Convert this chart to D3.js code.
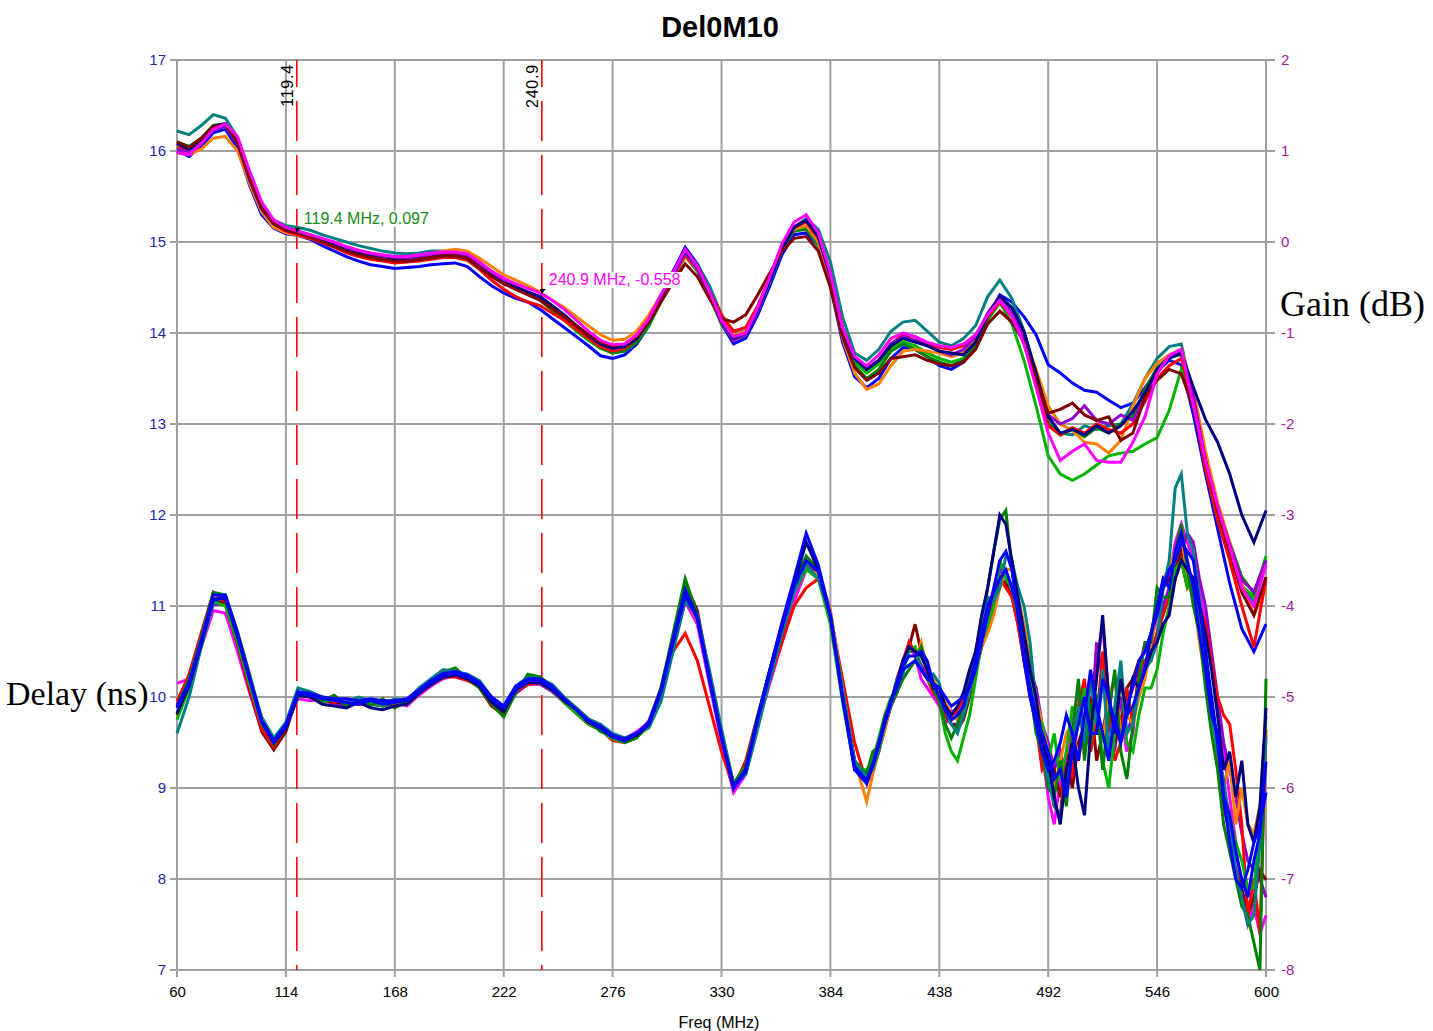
<!DOCTYPE html>
<html><head><meta charset="utf-8">
<script src="https://cdn.jsdelivr.net/npm/d3@7"></script>
<style>body{margin:0;background:#fff}svg{display:block}</style>
</head><body>
<svg id="chart" width="1433" height="1031"></svg>
<script>
const title = "Del0M10";
const xTicks = [60,114,168,222,276,330,384,438,492,546,600];
const delayTicks = [7,8,9,10,11,12,13,14,15,16,17];
const gainTicks = [-8,-7,-6,-5,-4,-3,-2,-1,0,1,2];
const markers = [119.4, 240.9];
const markerNotes = [{f:119.4, text:"119.4 MHz, 0.097", color:"#178a17"},{f:240.9, text:"240.9 MHz, -0.558", color:"#ff00ff"}];

// frequency grid for gain traces (MHz)
const freq = [60,66,72,78,84,90,96,102,108,114,
120,126,132,138,144,150,156,162,168,174,
180,186,192,198,204,210,216,222,228,234,
240,246,252,258,264,270,276,282,288,294,
300,306,312,318,324,330,336,342,348,354,
360,366,372,378,384,390,396,402,408,414,
420,426,432,438,444,450,456,462,468,474,
480,486,492,498,504,510,516,522,528,534,
540,546,552,558,564,570,576,582,588,594,
600];
// frequency grid for delay traces: 60..396 (head) then 402..600 (tail)
const delayFreqHead = [60,66,72,78,84,90,96,102,108,114,
120,126,132,138,144,150,156,162,168,174,
180,186,192,198,204,210,216,222,228,234,
240,246,252,258,264,270,276,282,288,294,
300,306,312,318,324,330,336,342,348,354,
360,366,372,378,384,390,396];
const delayFreqTail = [402,405,408,411,414,417,420,423,426,429,
432,435,438,441,444,447,450,453,456,459,
462,465,468,471,474,477,480,483,486,489,
492,495,498,501,504,507,510,513,516,519,
522,525,528,531,534,537,540,543,546,549,
552,555,558,561,564,567,570,573,576,579,
582,585,588,591,594,597,600];

// ---- Gain (dB) series ----
const gainBlue = [1.00,0.94,1.05,1.20,1.24,1.03,0.62,0.30,0.15,0.09,
0.07,0.03,-0.04,-0.10,-0.16,-0.21,-0.25,-0.27,-0.29,-0.28,
-0.27,-0.25,-0.24,-0.23,-0.27,-0.38,-0.48,-0.56,-0.62,-0.66,
-0.74,-0.84,-0.94,-1.04,-1.14,-1.25,-1.28,-1.24,-1.12,-0.92,
-0.62,-0.32,-0.06,-0.24,-0.56,-0.90,-1.12,-1.06,-0.80,-0.48,
-0.14,0.08,0.10,-0.04,-0.48,-1.10,-1.48,-1.60,-1.50,-1.28,
-1.16,-1.18,-1.26,-1.36,-1.40,-1.32,-1.12,-0.82,-0.58,-0.66,
-0.82,-1.02,-1.35,-1.44,-1.55,-1.63,-1.65,-1.74,-1.82,-1.77,
-1.60,-1.42,-1.30,-1.35,-1.90,-2.55,-3.15,-3.75,-4.25,-4.50,
-4.20];
const gainTeal = [1.22,1.18,1.28,1.40,1.36,1.15,0.74,0.40,0.24,0.18,
0.16,0.13,0.08,0.04,0.00,-0.04,-0.07,-0.10,-0.12,-0.13,
-0.12,-0.10,-0.10,-0.11,-0.15,-0.25,-0.35,-0.43,-0.49,-0.55,
-0.60,-0.70,-0.80,-0.92,-1.02,-1.12,-1.17,-1.15,-1.06,-0.88,
-0.64,-0.40,-0.14,-0.24,-0.48,-0.80,-1.00,-0.98,-0.76,-0.44,
-0.10,0.16,0.26,0.14,-0.22,-0.82,-1.22,-1.30,-1.18,-0.98,
-0.88,-0.86,-0.98,-1.10,-1.14,-1.06,-0.92,-0.60,-0.42,-0.62,
-0.98,-1.46,-1.98,-2.10,-2.12,-2.02,-2.06,-2.02,-2.00,-1.78,
-1.50,-1.28,-1.15,-1.12,-1.72,-2.42,-2.98,-3.40,-3.78,-3.95,
-3.75];
const gainGreen = [1.10,1.05,1.14,1.28,1.30,1.10,0.70,0.37,0.21,0.12,
0.10,0.07,0.02,-0.03,-0.08,-0.12,-0.15,-0.17,-0.19,-0.19,
-0.17,-0.14,-0.12,-0.12,-0.16,-0.26,-0.35,-0.43,-0.50,-0.57,
-0.63,-0.74,-0.84,-0.95,-1.06,-1.16,-1.22,-1.20,-1.10,-0.90,
-0.64,-0.40,-0.16,-0.32,-0.60,-0.90,-1.08,-1.02,-0.74,-0.40,
-0.04,0.12,0.14,-0.02,-0.44,-1.02,-1.36,-1.50,-1.40,-1.20,
-1.12,-1.18,-1.26,-1.32,-1.36,-1.30,-1.14,-0.84,-0.66,-0.80,
-1.06,-1.52,-2.00,-2.12,-2.06,-2.14,-2.04,-2.10,-2.00,-1.92,
-1.62,-1.38,-1.26,-1.24,-1.70,-2.40,-2.92,-3.30,-3.68,-3.86,
-3.50];
const gainLime = [1.04,1.00,1.10,1.24,1.27,1.09,0.70,0.38,0.22,0.15,
0.12,0.08,0.03,-0.02,-0.07,-0.11,-0.14,-0.16,-0.18,-0.18,
-0.16,-0.14,-0.12,-0.13,-0.16,-0.26,-0.35,-0.44,-0.50,-0.57,
-0.64,-0.75,-0.86,-0.98,-1.08,-1.17,-1.22,-1.19,-1.10,-0.92,
-0.66,-0.40,-0.16,-0.30,-0.56,-0.86,-1.04,-0.98,-0.72,-0.38,
-0.06,0.12,0.15,-0.04,-0.46,-1.02,-1.32,-1.44,-1.34,-1.16,
-1.10,-1.14,-1.22,-1.28,-1.32,-1.28,-1.12,-0.86,-0.66,-0.90,
-1.30,-1.80,-2.35,-2.55,-2.62,-2.55,-2.45,-2.35,-2.32,-2.30,
-2.22,-2.15,-1.85,-1.40,-1.70,-2.45,-3.05,-3.40,-3.78,-3.90,
-3.45];
const gainOrange = [0.98,0.96,1.02,1.14,1.16,1.00,0.64,0.33,0.16,0.10,
0.07,0.04,0.00,-0.05,-0.10,-0.14,-0.17,-0.19,-0.20,-0.19,
-0.16,-0.13,-0.10,-0.08,-0.10,-0.18,-0.27,-0.36,-0.42,-0.48,
-0.55,-0.64,-0.72,-0.82,-0.92,-1.02,-1.08,-1.07,-0.98,-0.80,
-0.58,-0.38,-0.16,-0.30,-0.54,-0.84,-1.02,-0.98,-0.72,-0.40,
-0.04,0.14,0.18,0.00,-0.44,-1.06,-1.44,-1.62,-1.56,-1.36,
-1.20,-1.18,-1.20,-1.22,-1.26,-1.22,-1.06,-0.80,-0.60,-0.74,
-1.04,-1.40,-1.80,-2.00,-2.07,-2.20,-2.22,-2.32,-2.18,-1.80,
-1.50,-1.33,-1.24,-1.18,-1.62,-2.30,-2.86,-3.30,-3.76,-4.10,
-3.80];
const gainRed = [1.04,1.00,1.12,1.26,1.29,1.10,0.70,0.37,0.20,0.12,
0.08,0.04,-0.01,-0.06,-0.12,-0.16,-0.19,-0.21,-0.23,-0.22,
-0.21,-0.19,-0.17,-0.17,-0.20,-0.30,-0.42,-0.52,-0.60,-0.66,
-0.70,-0.78,-0.86,-0.96,-1.06,-1.15,-1.20,-1.17,-1.06,-0.86,
-0.60,-0.38,-0.14,-0.30,-0.54,-0.80,-0.98,-0.94,-0.70,-0.38,
-0.04,0.16,0.22,0.04,-0.38,-0.94,-1.26,-1.40,-1.30,-1.12,
-1.02,-1.04,-1.12,-1.16,-1.18,-1.14,-1.04,-0.82,-0.66,-0.82,
-1.12,-1.55,-2.02,-2.12,-2.04,-2.10,-2.00,-2.06,-2.10,-2.00,
-1.75,-1.50,-1.36,-1.28,-1.78,-2.50,-3.05,-3.50,-4.00,-4.45,
-3.70];
const gainPurple = [1.02,0.99,1.09,1.23,1.27,1.08,0.68,0.36,0.20,0.13,
0.10,0.06,0.02,-0.03,-0.08,-0.12,-0.15,-0.17,-0.19,-0.19,
-0.17,-0.15,-0.13,-0.13,-0.16,-0.26,-0.35,-0.43,-0.49,-0.55,
-0.61,-0.71,-0.82,-0.92,-1.02,-1.11,-1.16,-1.14,-1.05,-0.86,
-0.61,-0.37,-0.12,-0.29,-0.58,-0.88,-1.08,-1.02,-0.76,-0.42,
-0.08,0.17,0.24,0.06,-0.38,-0.96,-1.28,-1.40,-1.30,-1.12,
-1.04,-1.08,-1.14,-1.20,-1.24,-1.18,-1.04,-0.78,-0.60,-0.76,
-1.04,-1.50,-1.90,-2.00,-1.94,-1.80,-1.96,-2.00,-1.90,-1.96,
-1.70,-1.40,-1.26,-1.20,-1.70,-2.40,-2.92,-3.32,-3.72,-3.84,
-3.50];
const gainNavy = [1.08,1.02,1.13,1.27,1.30,1.10,0.70,0.37,0.20,0.13,
0.10,0.06,0.01,-0.04,-0.09,-0.13,-0.16,-0.19,-0.20,-0.21,
-0.19,-0.17,-0.15,-0.15,-0.18,-0.28,-0.37,-0.45,-0.50,-0.55,
-0.60,-0.70,-0.80,-0.92,-1.03,-1.12,-1.17,-1.15,-1.06,-0.86,
-0.60,-0.34,-0.10,-0.26,-0.54,-0.86,-1.06,-1.00,-0.74,-0.42,
-0.08,0.16,0.24,0.06,-0.36,-0.96,-1.28,-1.40,-1.30,-1.14,
-1.06,-1.10,-1.14,-1.20,-1.22,-1.24,-1.10,-0.80,-0.60,-0.72,
-0.98,-1.44,-1.92,-2.10,-2.06,-2.12,-2.02,-2.10,-2.02,-1.86,
-1.66,-1.40,-1.28,-1.22,-1.60,-1.95,-2.20,-2.55,-3.00,-3.30,
-2.95];
const gainMaroon = [1.10,1.04,1.14,1.27,1.29,1.10,0.70,0.37,0.20,0.13,
0.10,0.06,0.00,-0.05,-0.10,-0.14,-0.17,-0.19,-0.21,-0.21,
-0.19,-0.17,-0.15,-0.15,-0.18,-0.28,-0.38,-0.46,-0.52,-0.58,
-0.64,-0.73,-0.82,-0.92,-1.02,-1.10,-1.14,-1.12,-1.04,-0.88,
-0.66,-0.44,-0.24,-0.38,-0.62,-0.84,-0.88,-0.80,-0.58,-0.34,
-0.10,0.04,0.06,-0.10,-0.50,-1.04,-1.38,-1.52,-1.44,-1.28,
-1.26,-1.24,-1.30,-1.34,-1.36,-1.32,-1.18,-0.90,-0.76,-0.88,
-1.10,-1.50,-1.88,-1.84,-1.77,-1.90,-1.96,-1.92,-2.18,-2.10,
-1.70,-1.52,-1.40,-1.45,-1.82,-2.40,-2.95,-3.40,-3.85,-4.10,
-3.68];
const gainMagenta = [0.98,0.96,1.08,1.24,1.30,1.16,0.78,0.44,0.24,0.16,
0.12,0.08,0.04,0.00,-0.05,-0.09,-0.12,-0.14,-0.16,-0.16,
-0.14,-0.12,-0.11,-0.11,-0.13,-0.22,-0.32,-0.40,-0.46,-0.51,
-0.56,-0.64,-0.74,-0.86,-0.98,-1.08,-1.13,-1.12,-1.02,-0.84,
-0.58,-0.34,-0.08,-0.26,-0.54,-0.86,-1.04,-1.00,-0.72,-0.38,
-0.02,0.22,0.30,0.10,-0.34,-0.94,-1.26,-1.36,-1.24,-1.06,
-1.00,-1.04,-1.10,-1.14,-1.16,-1.12,-1.02,-0.80,-0.64,-0.82,
-1.12,-1.60,-2.10,-2.40,-2.30,-2.22,-2.40,-2.42,-2.42,-2.20,
-1.92,-1.45,-1.25,-1.18,-1.80,-2.40,-2.90,-3.35,-3.80,-4.00,
-3.55];

// ---- Delay (ns) series: head (60..396 MHz) and tail (402..600 MHz) ----
const delayTealHead = [9.60,10.00,10.55,11.05,11.10,10.70,10.22,9.78,9.55,9.72,
10.10,10.06,10.00,9.98,9.94,10.00,9.96,9.92,9.98,9.96,
10.10,10.20,10.30,10.28,10.25,10.18,10.00,9.90,10.12,10.22,
10.20,10.14,10.00,9.88,9.76,9.70,9.60,9.55,9.60,9.66,
9.95,10.50,11.05,10.90,10.30,9.65,9.05,9.15,9.65,10.20,
10.70,11.15,11.45,11.30,10.90,10.10,9.30];
const delayTealTail = [9.12,9.20,9.40,9.70,9.90,10.20,10.25,10.55,10.50,10.30,
10.20,10.25,10.15,9.85,9.70,9.60,9.80,10.05,10.40,10.75,
11.10,11.05,11.20,11.55,11.50,11.20,11.00,10.60,9.90,9.50,
9.10,8.80,8.70,9.10,9.40,9.90,9.50,10.20,9.70,10.30,
9.40,9.90,10.40,9.60,9.70,10.10,10.30,10.40,10.60,11.20,
11.50,12.30,12.45,11.80,11.60,11.10,10.50,9.80,9.40,9.10,
8.60,8.10,7.80,7.50,7.60,8.40,9.55];
const delayGreenHead = [9.90,10.20,10.65,11.15,11.12,10.72,10.25,9.75,9.48,9.66,
10.05,10.00,9.96,10.02,9.90,9.96,9.90,9.98,9.88,9.96,
10.08,10.18,10.28,10.32,10.20,10.10,9.92,9.78,10.05,10.25,
10.22,10.12,9.98,9.86,9.74,9.62,9.58,9.50,9.55,9.72,
10.10,10.70,11.30,10.90,10.20,9.55,9.05,9.25,9.80,10.30,
10.80,11.25,11.55,11.40,10.90,10.05,9.30];
const delayGreenTail = [9.15,9.40,9.45,9.80,9.90,10.05,10.20,10.30,10.40,10.55,
10.35,10.10,9.95,9.70,9.55,9.70,9.90,10.20,10.50,10.80,
11.20,11.60,11.95,12.05,11.40,11.00,10.60,10.10,9.60,9.40,
9.00,8.90,9.30,8.80,9.60,10.20,9.30,9.90,10.00,9.20,
9.80,10.30,9.40,9.10,9.70,10.20,10.60,10.60,11.20,11.10,
11.10,11.60,11.90,11.40,11.00,10.70,10.10,9.60,9.20,8.60,
8.30,8.00,7.70,7.60,7.30,7.00,10.20];
const delayLimeHead = [9.75,10.10,10.55,11.05,11.00,10.60,10.14,9.70,9.52,9.70,
10.00,10.02,9.94,9.98,9.92,9.96,9.94,9.90,9.96,9.92,
10.04,10.14,10.22,10.28,10.24,10.16,9.98,9.88,10.08,10.16,
10.16,10.08,9.94,9.82,9.70,9.64,9.54,9.50,9.56,9.68,
10.00,10.60,11.20,10.88,10.22,9.60,9.05,9.20,9.70,10.20,
10.70,11.15,11.40,11.30,10.80,9.95,9.20];
const delayLimeTail = [9.20,9.30,9.55,9.80,10.00,10.05,10.35,10.50,10.55,10.30,
10.20,10.10,9.95,9.60,9.40,9.30,9.55,9.80,10.20,10.60,
10.80,11.00,11.50,11.30,11.20,10.90,10.50,10.20,9.80,9.70,
9.30,9.60,9.10,9.40,9.90,9.70,10.10,9.50,10.00,9.30,
9.00,9.60,10.30,9.50,9.40,9.80,10.10,10.10,10.30,10.70,
11.00,11.40,11.50,11.20,11.20,10.80,10.40,9.90,9.50,9.00,
8.70,8.40,8.20,7.90,7.90,8.60,9.80];
const delayRedHead = [9.95,10.25,10.70,11.15,11.05,10.60,10.10,9.65,9.45,9.66,
10.00,10.05,10.00,9.94,9.98,9.92,9.96,9.94,9.92,9.95,
10.05,10.15,10.22,10.22,10.18,10.12,9.90,9.80,10.06,10.14,
10.16,10.08,9.94,9.82,9.70,9.64,9.52,9.50,9.56,9.68,
10.10,10.50,10.70,10.40,9.90,9.40,9.00,9.30,9.80,10.20,
10.60,11.00,11.20,11.30,10.90,10.20,9.50];
const delayRedTail = [9.05,9.20,9.40,9.65,9.90,10.15,10.40,10.60,10.50,10.30,
10.20,10.05,9.95,9.80,9.80,9.85,10.00,10.20,10.40,10.65,
10.90,11.10,11.30,11.20,11.10,10.80,10.40,10.00,9.70,9.20,
9.30,8.80,8.70,9.40,9.10,9.90,10.20,9.40,9.70,10.50,
9.90,9.30,9.50,10.10,9.70,10.30,10.40,10.40,10.70,10.90,
11.10,11.30,11.50,11.20,11.30,11.00,10.80,10.40,10.00,9.80,
9.70,9.20,8.60,7.60,8.00,7.40,9.64];
const delayMaroonHead = [9.80,10.12,10.60,11.08,11.02,10.58,10.08,9.62,9.42,9.62,
10.04,10.02,9.96,9.94,9.94,9.92,9.93,9.92,9.94,9.93,
10.04,10.14,10.22,10.24,10.20,10.10,9.90,9.82,10.06,10.16,
10.16,10.08,9.96,9.86,9.74,9.66,9.58,9.54,9.58,9.72,
10.08,10.66,11.25,10.95,10.25,9.58,9.04,9.22,9.76,10.26,
10.76,11.20,11.45,11.32,10.86,10.02,9.28];
const delayMaroonTail = [9.14,9.30,9.48,9.70,9.94,10.20,10.40,10.55,10.80,10.50,
10.35,10.10,10.10,9.80,9.70,9.65,9.75,10.00,10.30,10.55,
10.80,11.00,11.30,11.25,11.10,10.80,10.40,10.10,9.90,9.60,
9.10,9.20,8.90,9.30,9.00,9.50,9.70,10.00,9.30,9.60,
10.00,9.50,9.70,10.10,10.20,10.40,10.50,10.70,11.00,11.20,
11.30,11.40,11.60,11.30,11.20,10.80,10.50,9.90,9.40,8.80,
8.50,8.10,7.90,7.60,7.80,8.10,7.99];
const delayOrangeHead = [9.88,10.18,10.62,11.05,11.10,10.70,10.22,9.76,9.52,9.70,
10.04,10.04,9.98,9.96,9.98,9.94,9.95,9.95,9.94,9.92,
10.06,10.16,10.24,10.26,10.22,10.12,9.96,9.86,10.10,10.18,
10.18,10.10,9.96,9.84,9.72,9.66,9.56,9.52,9.58,9.70,
10.05,10.60,11.12,10.84,10.22,9.58,9.02,9.22,9.78,10.28,
10.78,11.22,11.40,11.35,10.95,10.10,9.30];
const delayOrangeTail = [8.85,9.15,9.40,9.65,9.95,10.10,10.30,10.35,10.40,10.60,
10.30,10.20,10.05,9.95,9.80,9.75,9.85,10.05,10.30,10.55,
10.70,10.90,11.20,11.40,11.40,11.10,10.80,10.40,10.00,9.70,
9.40,9.00,9.30,9.60,9.70,9.30,9.70,10.20,9.80,9.50,
10.00,10.20,9.60,9.80,9.70,10.00,10.20,10.60,10.90,11.30,
11.40,11.60,11.80,11.30,11.10,10.60,10.20,9.80,9.40,9.00,
9.30,8.60,9.00,8.60,8.50,8.80,8.76];
const delayMagentaHead = [10.15,10.20,10.55,10.95,10.92,10.50,10.05,9.64,9.50,9.70,
9.98,9.96,9.98,9.92,9.96,9.92,9.96,9.94,9.96,9.90,
10.02,10.12,10.20,10.24,10.20,10.12,9.96,9.86,10.08,10.14,
10.16,10.10,9.98,9.88,9.76,9.68,9.58,9.54,9.62,9.72,
10.00,10.55,11.05,10.80,10.15,9.50,8.95,9.15,9.70,10.15,
10.60,11.05,11.40,11.40,10.95,10.10,9.30];
const delayMagentaTail = [9.05,9.30,9.45,9.70,9.90,10.05,10.35,10.60,10.45,10.20,
10.10,10.00,9.90,9.70,9.85,9.80,9.95,10.15,10.30,10.55,
10.75,11.10,11.50,11.30,11.20,10.90,10.60,10.20,9.90,9.40,
8.90,8.60,9.10,9.30,9.70,10.10,9.60,9.90,10.40,10.80,
10.00,9.50,9.80,9.40,9.60,10.30,10.60,10.60,10.90,11.20,
11.30,11.70,11.90,11.70,11.50,11.20,10.80,10.40,9.90,9.40,
8.90,8.40,7.80,7.50,7.70,7.40,7.60];
const delayPurpleHead = [9.92,10.14,10.58,11.02,11.02,10.60,10.14,9.70,9.50,9.68,
10.02,10.00,9.96,9.94,9.90,9.96,9.92,9.90,9.92,9.94,
10.04,10.14,10.22,10.26,10.22,10.14,9.94,9.84,10.04,10.14,
10.14,10.06,9.94,9.84,9.72,9.64,9.54,9.50,9.58,9.74,
10.10,10.62,11.10,10.86,10.22,9.60,9.00,9.16,9.72,10.20,
10.70,11.18,11.45,11.36,10.92,10.06,9.28];
const delayPurpleTail = [9.12,9.30,9.50,9.75,9.96,10.15,10.40,10.50,10.50,10.35,
10.25,10.10,10.00,9.80,9.70,9.70,9.90,10.10,10.35,10.60,
10.85,11.10,11.40,11.30,11.20,10.90,10.60,10.30,10.10,9.70,
9.50,9.20,9.40,9.10,9.50,9.80,10.10,9.60,10.60,10.20,
9.70,9.40,10.00,9.60,9.80,10.20,10.40,10.50,10.70,11.00,
11.20,11.40,11.60,11.80,11.70,11.30,11.00,10.50,10.00,9.50,
9.20,8.90,8.50,8.20,8.10,8.00,7.80];
const delayNavyHead = [9.82,10.12,10.58,11.08,11.08,10.66,10.20,9.74,9.50,9.66,
10.02,10.00,9.92,9.90,9.88,9.94,9.88,9.86,9.90,9.92,
10.04,10.14,10.22,10.24,10.20,10.12,9.94,9.84,10.08,10.16,
10.16,10.08,9.96,9.86,9.72,9.66,9.56,9.52,9.58,9.70,
10.06,10.62,11.16,10.86,10.20,9.56,9.02,9.20,9.78,10.30,
10.80,11.25,11.70,11.40,10.88,10.00,9.22];
const delayNavyTail = [9.08,9.25,9.48,9.72,9.95,10.15,10.40,10.55,10.50,10.45,
10.30,10.10,10.10,9.90,9.80,9.90,10.05,10.30,10.50,10.90,
11.20,11.60,12.00,11.90,11.50,11.10,10.70,10.30,10.00,9.50,
9.30,8.90,8.60,9.20,9.50,9.00,8.70,9.60,10.20,10.90,
10.00,9.60,10.20,9.80,10.20,10.10,10.30,10.50,10.60,10.80,
10.90,11.30,11.50,11.40,11.30,11.00,10.70,10.30,9.80,9.20,
9.40,8.90,9.30,8.60,8.40,8.80,9.88];
const delayBlue2Head = [9.88,10.14,10.60,11.06,11.10,10.68,10.20,9.72,9.50,9.68,
10.04,10.02,9.98,9.96,9.94,9.92,9.96,9.92,9.94,9.96,
10.06,10.16,10.24,10.26,10.22,10.14,9.98,9.88,10.08,10.18,
10.18,10.10,9.98,9.86,9.74,9.66,9.56,9.52,9.60,9.70,
10.06,10.60,11.12,10.86,10.20,9.56,9.00,9.18,9.76,10.26,
10.76,11.22,11.50,11.38,10.88,10.00,9.24];
const delayBlue2Tail = [9.08,9.26,9.48,9.72,9.94,10.15,10.35,10.45,10.45,10.50,
10.40,10.15,10.00,9.85,9.75,9.80,9.90,10.15,10.40,10.70,
11.00,11.15,11.30,11.40,11.20,10.95,10.40,10.00,9.70,9.40,
9.20,9.30,9.50,9.80,9.60,9.30,9.80,10.30,9.90,9.60,
9.30,9.80,9.50,9.90,10.10,10.40,10.50,10.70,11.00,11.30,
11.20,11.60,11.80,11.50,11.20,10.70,10.30,9.80,9.60,8.90,
8.40,8.00,7.90,8.10,8.40,8.60,8.95];
const delayBlueHead = [9.90,10.16,10.62,11.12,11.12,10.70,10.22,9.74,9.52,9.70,
10.06,10.04,10.00,9.98,9.98,9.96,9.98,9.96,9.96,9.98,
10.08,10.18,10.26,10.28,10.24,10.16,10.00,9.90,10.12,10.20,
10.20,10.12,9.98,9.86,9.74,9.68,9.58,9.54,9.60,9.72,
10.08,10.64,11.18,10.88,10.22,9.56,9.00,9.20,9.78,10.30,
10.82,11.30,11.80,11.45,10.90,10.00,9.20];
const delayBlueTail = [9.05,9.25,9.50,9.75,9.96,10.10,10.30,10.35,10.40,10.30,
10.20,10.15,10.10,10.00,9.90,9.95,10.00,10.10,10.30,10.60,
10.90,11.20,11.50,11.60,11.40,10.90,10.50,10.10,9.80,9.60,
9.40,9.10,9.20,8.90,9.40,9.70,10.00,9.60,9.60,10.20,
10.00,9.70,9.50,9.80,9.90,10.10,10.30,10.70,10.90,11.20,
11.40,11.50,11.70,11.60,11.50,11.00,10.50,10.00,9.50,8.90,
8.70,8.30,8.00,7.80,8.20,8.50,9.29];

const gainSeries = [
  {color:"#0000ff", values:gainBlue},
  {color:"#008080", values:gainTeal},
  {color:"#00b400", values:gainLime},
  {color:"#008000", values:gainGreen},
  {color:"#ff8000", values:gainOrange},
  {color:"#ff0000", values:gainRed},
  {color:"#9400d3", values:gainPurple},
  {color:"#000080", values:gainNavy},
  {color:"#800000", values:gainMaroon},
  {color:"#ff00ff", values:gainMagenta}
];
const delayFreq = delayFreqHead.concat(delayFreqTail);
const delaySeries = [
  {color:"#ff00ff", head:delayMagentaHead, tail:delayMagentaTail},
  {color:"#9400d3", head:delayPurpleHead, tail:delayPurpleTail},
  {color:"#800000", head:delayMaroonHead, tail:delayMaroonTail},
  {color:"#ff0000", head:delayRedHead, tail:delayRedTail},
  {color:"#ff8000", head:delayOrangeHead, tail:delayOrangeTail},
  {color:"#00b400", head:delayLimeHead, tail:delayLimeTail},
  {color:"#008000", head:delayGreenHead, tail:delayGreenTail},
  {color:"#008080", head:delayTealHead, tail:delayTealTail},
  {color:"#000080", head:delayNavyHead, tail:delayNavyTail},
  {color:"#0000ff", head:delayBlue2Head, tail:delayBlue2Tail},
  {color:"#0000ff", head:delayBlueHead, tail:delayBlueTail}
].map(s => ({color:s.color, values:s.head.concat(s.tail)}));

const svg = d3.select("#chart");
const L = 177, R = 1266, T = 60, B = 970;
const x = d3.scaleLinear().domain([60,600]).range([L,R]);
const yD = d3.scaleLinear().domain([7,17]).range([B,T]);
const yG = d3.scaleLinear().domain([-8,2]).range([B,T]);
const gridColor = "#a0a0a0";
const sans = "'Liberation Sans',Arial,sans-serif";

svg.append("rect").attr("width",1433).attr("height",1031).attr("fill","#fff");

// grid
const grid = svg.append("g");
grid.selectAll("line.v").data(xTicks).join("line")
  .attr("x1",d=>x(d)).attr("x2",d=>x(d)).attr("y1",T).attr("y2",B+7)
  .attr("stroke",gridColor).attr("stroke-width",2);
grid.selectAll("line.h").data(delayTicks).join("line")
  .attr("x1",L-7).attr("x2",R+9).attr("y1",d=>yD(d)).attr("y2",d=>yD(d))
  .attr("stroke",gridColor).attr("stroke-width",2);

// axes tick labels
const axL = d3.axisLeft(yD).tickValues(delayTicks).tickSize(0).tickPadding(11).tickFormat(d=>String(d));
const gL = svg.append("g").attr("transform",`translate(${L},0)`).call(axL);
gL.select(".domain").remove();
gL.selectAll("text").attr("fill","#2424b0").style("font-family",sans).style("font-size","15px");

const axR = d3.axisRight(yG).tickValues(gainTicks).tickSize(0).tickPadding(15).tickFormat(d=>String(d));
const gR = svg.append("g").attr("transform",`translate(${R},0)`).call(axR);
gR.select(".domain").remove();
gR.selectAll("text").attr("fill","#a020a0").style("font-family",sans).style("font-size","15px");

const axB = d3.axisBottom(x).tickValues(xTicks).tickSize(0).tickPadding(16).tickFormat(d=>String(d));
const gB = svg.append("g").attr("transform",`translate(0,${B})`).call(axB);
gB.select(".domain").remove();
gB.selectAll("text").attr("fill","#000").style("font-family",sans).style("font-size","15px");

// marker lines
const mk = svg.append("g");
mk.selectAll("line").data(markers).join("line")
  .attr("x1",d=>x(d)).attr("x2",d=>x(d)).attr("y1",T).attr("y2",B)
  .attr("stroke","#ff0000").attr("stroke-width",1.6)
  .attr("stroke-dasharray","40,14").attr("stroke-dashoffset",13);
mk.selectAll("text").data(markers).join("text")
  .attr("transform",d=>`translate(${x(d)-4},64) rotate(-90)`)
  .attr("text-anchor","end")
  .style("font-family",sans).style("font-size","16px").style("letter-spacing","0.8px")
  .attr("fill","#000").text(d=>d.toFixed(1));

// traces
const gainLine = d3.line().x((d,i)=>x(freq[i])).y(d=>yG(d));
const delayLine = d3.line().x((d,i)=>x(delayFreq[i])).y(d=>yD(d));
const lines = svg.append("g").attr("fill","none").attr("stroke-width",3).attr("stroke-linejoin","miter");
lines.selectAll("path.g").data(gainSeries).join("path")
  .attr("d",d=>gainLine(d.values)).attr("stroke",d=>d.color);
lines.selectAll("path.d").data(delaySeries).join("path")
  .attr("d",d=>delayLine(d.values)).attr("stroke",d=>d.color);

// marker read-outs
const noteVals = [gainGreen, gainMagenta];
markerNotes.forEach((n,k)=>{
  const i = d3.bisectLeft(freq, n.f);
  const v = noteVals[k][i-1] + (noteVals[k][i]-noteVals[k][i-1])*(n.f-freq[i-1])/(freq[i]-freq[i-1]);
  const g = svg.append("g");
  const t = g.append("text").attr("x",x(n.f)+7).attr("y",yG(v)-9)
    .style("font-family",sans).style("font-size","16px")
    .attr("fill",n.color).text(n.text);
  const bb = t.node().getBBox();
  g.insert("rect","text").attr("x",bb.x-2).attr("y",bb.y+1).attr("width",bb.width+4).attr("height",bb.height-1)
    .attr("fill","#fff");
  g.append("path").attr("d",`M${x(n.f)},${yG(v)} l4,-5 l-6,0 z`).attr("fill","#000");
});

// titles
svg.append("text").attr("x",720).attr("y",37).attr("text-anchor","middle")
  .style("font-family",sans).style("font-weight","bold").style("font-size","29px")
  .text(title);
svg.append("text").attr("x",719).attr("y",1028).attr("text-anchor","middle")
  .style("font-family",sans).style("font-size","16px")
  .text("Freq (MHz)");
svg.append("text").attr("x",6).attr("y",705)
  .style("font-family","'Liberation Serif','Times New Roman',serif").style("font-size","34px")
  .text("Delay (ns)");
svg.append("text").attr("x",1280).attr("y",316)
  .style("font-family","'Liberation Serif','Times New Roman',serif").style("font-size","36px")
  .text("Gain (dB)");
</script>
</body></html>
